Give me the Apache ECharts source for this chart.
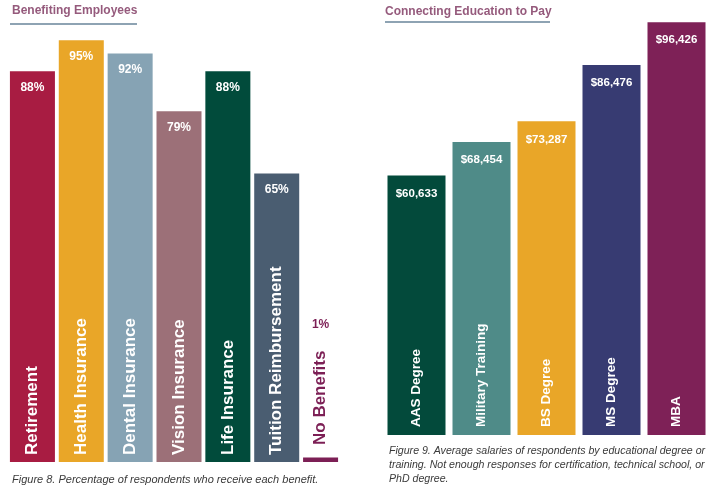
<!DOCTYPE html>
<html>
<head>
<meta charset="utf-8">
<script src="https://cdn.jsdelivr.net/npm/echarts@6/dist/echarts.min.js"></script>
<style>
html,body{margin:0;padding:0;background:#fff;}
#main{width:717px;height:491px;}
</style>
</head>
<body>
<div id="main"></div>
<script>
// ---- Data ----
var benefitCategories = ['Retirement', 'Health Insurance', 'Dental Insurance', 'Vision Insurance', 'Life Insurance', 'Tuition Reimbursement', 'No Benefits'];
var benefitValues = [88, 95, 92, 79, 88, 65, 1];
var benefitColors = ['#a81c42', '#e9a628', '#86a3b4', '#9c7078', '#014b3b', '#4a5d71', '#7c1f55'];

var degreeCategories = ['AAS Degree', 'Military Training', 'BS Degree', 'MS Degree', 'MBA'];
var salaryValues = [60633, 68454, 73287, 86476, 96426];
var degreeColors = ['#034a3b', '#4f8b88', '#e9a628', '#373b72', '#7e2157'];

var leftTitle = 'Benefiting Employees';
var rightTitle = 'Connecting Education to Pay';
var leftCaption = 'Figure 8. Percentage of respondents who receive each benefit.';
var rightCaption = 'Figure 9. Average salaries of respondents by educational degree or\ntraining. Not enough responses for certification, technical school, or\nPhD degree.';

// ---- Build ----
var FONT = "'Liberation Sans', Arial, sans-serif";
var lastIdx = benefitCategories.length - 1;

var mainVals = benefitValues.map(function (v, i) {
  return i === lastIdx ? '-' : { value: v, itemStyle: { color: benefitColors[i] } };
});
var nbVals = benefitValues.map(function (v, i) {
  return i === lastIdx ? { value: v, itemStyle: { color: benefitColors[i] } } : '-';
});
var salaryData = salaryValues.map(function (v, i) {
  return { value: v, itemStyle: { color: degreeColors[i] } };
});
function money(v) { return '$' + Number(v).toLocaleString('en-US'); }

var chart = echarts.init(document.getElementById('main'));
chart.setOption({
  animation: false,
  backgroundColor: '#ffffff',
  title: [
    { text: leftTitle, left: 12, top: 5, padding: 0, textStyle: { fontFamily: FONT, fontSize: 12, fontWeight: 'bold', color: '#955a7c' } },
    { text: rightTitle, left: 385, top: 6, padding: 0, textStyle: { fontFamily: FONT, fontSize: 12, fontWeight: 'bold', color: '#955a7c' } },
    { text: leftCaption, left: 12, top: 474, padding: 0, textStyle: { fontFamily: FONT, fontSize: 11, fontStyle: 'italic', fontWeight: 'normal', color: '#3a3a3a' } },
    { text: rightCaption, left: 389, top: 444, padding: 0, textStyle: { fontFamily: FONT, fontSize: 10.6, fontStyle: 'italic', fontWeight: 'normal', color: '#3a3a3a', lineHeight: 14 } }
  ],
  graphic: [
    { type: 'line', shape: { x1: 10, y1: 24, x2: 137, y2: 24 }, style: { stroke: '#8ea3b3', lineWidth: 2 } },
    { type: 'line', shape: { x1: 385, y1: 22, x2: 550, y2: 22 }, style: { stroke: '#8ea3b3', lineWidth: 2 } }
  ],
  grid: [
    { left: 8, width: 342, top: 18, height: 444 },
    { left: 384, width: 325, top: 7, height: 428 }
  ],
  xAxis: [
    { type: 'category', gridIndex: 0, data: benefitCategories, axisLine: { show: false }, axisTick: { show: false }, axisLabel: { show: false } },
    { type: 'category', gridIndex: 1, data: degreeCategories, axisLine: { show: false }, axisTick: { show: false }, axisLabel: { show: false } }
  ],
  yAxis: [
    { type: 'value', gridIndex: 0, min: 0, max: 100, show: false, splitLine: { show: false } },
    { type: 'value', gridIndex: 1, min: 0, max: 100000, show: false, splitLine: { show: false } }
  ],
  series: [
    // No Benefits (narrow bar) value
    {
      type: 'bar', xAxisIndex: 0, yAxisIndex: 0, data: nbVals, barWidth: 35, barGap: '-100%',
      label: { show: true, position: 'top', distance: 127, formatter: '{c}%', fontFamily: FONT, fontSize: 12, fontWeight: 'bold', color: '#7c1f55' }
    },
    // No Benefits category label
    {
      type: 'bar', xAxisIndex: 0, yAxisIndex: 0, data: benefitValues.map(function (v, i) { return i === lastIdx ? v : '-'; }),
      barWidth: 35, barGap: '-100%', silent: true, itemStyle: { color: 'rgba(0,0,0,0)' },
      label: { show: true, position: 'insideBottom', distance: 17, rotate: 90, align: 'left', verticalAlign: 'middle', formatter: '{b}', fontFamily: FONT, fontSize: 17, fontWeight: 'bold', color: '#7c1f55' }
    },
    // Main bars with values
    {
      type: 'bar', xAxisIndex: 0, yAxisIndex: 0, data: mainVals, barWidth: 45, barGap: '-100%',
      label: { show: true, position: 'insideTop', distance: 10, formatter: '{c}%', fontFamily: FONT, fontSize: 12, fontWeight: 'bold', color: '#ffffff' }
    },
    // Main category labels
    {
      type: 'bar', xAxisIndex: 0, yAxisIndex: 0, data: benefitValues.map(function (v, i) { return i === lastIdx ? '-' : v; }),
      barWidth: 45, barGap: '-100%', silent: true, itemStyle: { color: 'rgba(0,0,0,0)' },
      label: { show: true, position: 'insideBottom', distance: 7, rotate: 90, align: 'left', verticalAlign: 'middle', formatter: '{b}', fontFamily: FONT, fontSize: 17, fontWeight: 'bold', color: '#ffffff' }
    },
    // Salary bars
    {
      type: 'bar', xAxisIndex: 1, yAxisIndex: 1, data: salaryData, barWidth: 58, barGap: '-100%',
      label: { show: true, position: 'insideTop', distance: 12, formatter: function (p) { return money(p.value); }, fontFamily: FONT, fontSize: 11.5, fontWeight: 'bold', color: '#ffffff' }
    },
    // Salary category labels
    {
      type: 'bar', xAxisIndex: 1, yAxisIndex: 1, data: salaryValues, barWidth: 58, barGap: '-100%', silent: true,
      itemStyle: { color: 'rgba(0,0,0,0)' },
      label: { show: true, position: 'insideBottom', distance: 8, rotate: 90, align: 'left', verticalAlign: 'middle', formatter: '{b}', fontFamily: FONT, fontSize: 13.5, fontWeight: 'bold', color: '#ffffff' }
    }
  ]
});
</script>
</body>
</html>
